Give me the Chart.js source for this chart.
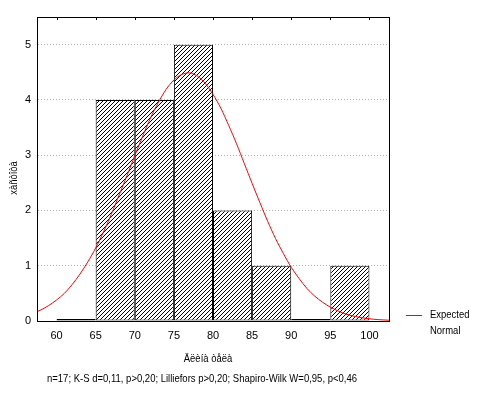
<!DOCTYPE html>
<html>
<head>
<meta charset="utf-8">
<script src="https://cdn.jsdelivr.net/npm/chart.js@4.4.1/dist/chart.umd.min.js"></script>
<style>
  body { margin:0; background:#fff; }
</style>
</head>
<body>
<canvas id="histChart" width="479" height="394"></canvas>
<script>
// histogram bins (centres) and counts
const binCenters = [62.5, 67.5, 72.5, 77.5, 82.5, 87.5, 92.5, 97.5];
const counts = [0, 4, 4, 5, 2, 1, 0, 1];

// expected normal curve
const curveX = [57.5, 58, 59, 60, 61, 62, 63, 64, 65, 66, 67, 68, 69, 70, 71, 72, 73, 74, 75, 76, 77, 78, 79, 80,
                81, 82, 83, 84, 85, 86, 87, 88, 89, 90, 91, 92, 93, 94, 95, 96, 97, 98, 99, 100, 101, 102.5];
const curveY = [0.17, 0.20, 0.28, 0.38, 0.50, 0.66, 0.85, 1.07, 1.32, 1.61, 1.93, 2.28, 2.63, 2.99, 3.34, 3.67, 3.95, 4.19, 4.36, 4.46, 4.49, 4.43, 4.30, 4.10,
                3.85, 3.54, 3.21, 2.85, 2.49, 2.14, 1.80, 1.49, 1.22, 0.97, 0.77, 0.59, 0.45, 0.34, 0.25, 0.18, 0.125, 0.087, 0.06, 0.04, 0.026, 0.014];

const xTicks = [60, 65, 70, 75, 80, 85, 90, 95, 100];
const yTicks = [0, 1, 2, 3, 4, 5];

const xTitle = 'Äëèíà òåëà';
const yTitle = 'xàñòîòà';
const footer = 'n=17; K-S d=0,11, p>0,20; Lilliefors p>0,20; Shapiro-Wilk W=0,95, p<0,46';
const legendText = ['Expected', 'Normal'];

const FONT = '"Liberation Sans", Arial, sans-serif';

// diagonal hatch fill like the original
function makeHatch(){
    const c = document.createElement('canvas');
    c.width = 4; c.height = 4;
    const g = c.getContext('2d');
    g.fillStyle = '#fff';
    g.fillRect(0, 0, 4, 4);
    g.fillStyle = '#000';
    for(let i = 0; i < 4; i++) g.fillRect(i, 3 - i, 1, 1);
    return g.createPattern(c, 'repeat');
}

// the original uses a narrow face, so squeeze text to the width it has there
function narrowText(c, text, x, y, sx){
    c.save();
    c.translate(x, y);
    c.scale(sx, 1);
    c.fillText(text, 0, 0);
    c.restore();
}

// frame, top ticks, titles, footer and legend
const decorations = {
    id:'decorations',
    afterDraw(chart){
        const {ctx, chartArea:a, scales} = chart;
        ctx.save();
        ctx.strokeStyle = '#000';
        ctx.lineWidth = 1;
        ctx.strokeRect(Math.round(a.left) + 0.5, Math.round(a.top) + 0.5,
                       Math.round(a.right - a.left), Math.round(a.bottom - a.top));
        ctx.beginPath();
        xTicks.forEach(v=>{
            const px = Math.round(scales.x.getPixelForValue(v)) + 0.5;
            ctx.moveTo(px, a.top);
            ctx.lineTo(px, a.top + 3);
        });
        ctx.stroke();

        ctx.fillStyle = '#000';
        ctx.font = '11px ' + FONT;
        ctx.textAlign = 'center';
        ctx.textBaseline = 'middle';
        narrowText(ctx, xTitle, 208, 359, 0.86);
        narrowText(ctx, footer, 202, 379, 310 / ctx.measureText(footer).width);

        ctx.save();
        ctx.translate(14, 178);
        ctx.rotate(-Math.PI / 2);
        ctx.scale(0.86, 1);
        ctx.fillText(yTitle, 0, 0);
        ctx.restore();

        // legend
        ctx.strokeStyle = '#ff0000';
        ctx.beginPath();
        ctx.moveTo(406, 315.5);
        ctx.lineTo(422, 315.5);
        ctx.stroke();
        ctx.textAlign = 'left';
        narrowText(ctx, legendText[0], 430, 315, 0.86);
        narrowText(ctx, legendText[1], 430, 331, 0.86);
        ctx.restore();
    }
};

const ctx = document.getElementById('histChart').getContext('2d');
const histChart = new Chart(ctx, {
    data:{
        datasets:[
            {
                type:'line',
                label:'Expected Normal',
                data: curveX.map((x, i)=>({x:x, y:curveY[i]})),
                borderColor:'#ff0000',
                borderWidth:1,
                pointRadius:0,
                tension:0.3,
                order:0
            },
            {
                type:'bar',
                label:'counts',
                data: binCenters.map((x, i)=>({x:x, y:counts[i]})),
                backgroundColor: makeHatch(),
                borderColor:'#000',
                borderWidth:1,
                borderSkipped:false,
                inflateAmount:0,
                barPercentage:1,
                categoryPercentage:1,
                minBarLength:2,
                order:1
            }
        ]
    },
    options:{
        responsive:false,
        animation:false,
        layout:{padding:{top:17, right:90, left:0, bottom:0}},
        plugins:{legend:{display:false}, tooltip:{enabled:false}},
        scales:{
            x:{
                type:'linear',
                min:57.5, max:102.5,
                offset:false,
                afterFit(s){ s.height = 73; },
                afterBuildTicks(s){ s.ticks = xTicks.map(v=>({value:v})); },
                grid:{display:false, drawTicks:false, offset:false},
                border:{display:true, color:'#000', width:1},
                ticks:{color:'#000', font:{size:11, family:FONT}, padding:8, maxRotation:0, autoSkip:false}
            },
            y:{
                min:0, max:5.5,
                afterFit(s){ s.width = 37; },
                afterBuildTicks(s){ s.ticks = yTicks.map(v=>({value:v})); },
                grid:{color:'#b0b0b0', drawTicks:false},
                border:{display:true, color:'#000', width:1, dash:[1,2]},
                ticks:{color:'#000', font:{size:11, family:FONT}, padding:6}
            }
        }
    },
    plugins:[decorations]
});
</script>
</body>
</html>
